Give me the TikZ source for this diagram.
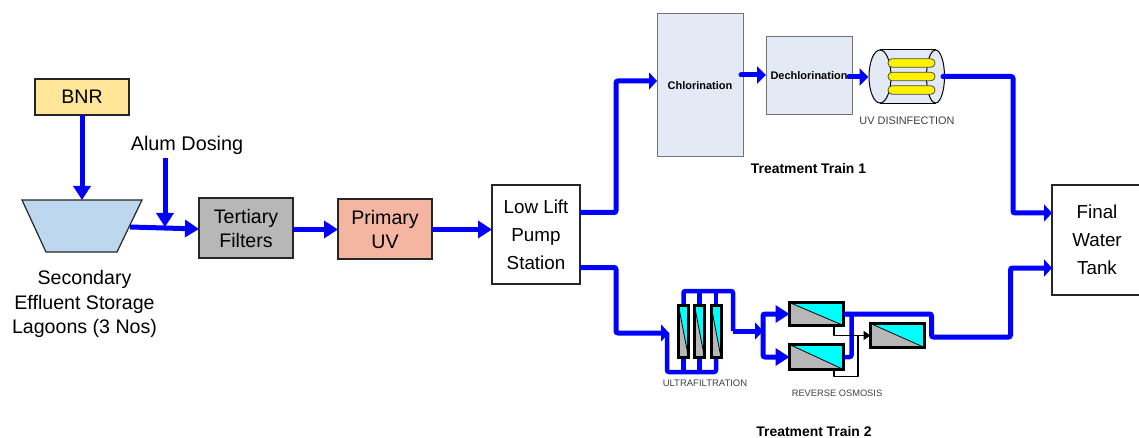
\documentclass[tikz,border=0pt]{standalone}
\usepackage{fontspec}
\setmainfont{Liberation Sans}
\usepackage{xcolor}
\usetikzlibrary{arrows.meta, positioning, backgrounds, calc, shapes.geometric}
\definecolor{bnrfill}{HTML}{FFE699}
\definecolor{lagoonfill}{HTML}{BDD7EE}
\definecolor{filterfill}{HTML}{B7B7B7}
\definecolor{primaryfill}{HTML}{F4B6A0}
\definecolor{trainfill}{HTML}{E4EAF5}
\definecolor{smalltext}{HTML}{404040}
\definecolor{memcyan}{HTML}{00FFFF}
\newcommand{\boxfont}{\fontsize{19.6}{24}\selectfont}
\newcommand{\tallfont}{\fontsize{18.8}{27.8}\selectfont}

\begin{document}
\begin{tikzpicture}[
  x=1pt, y=-1pt,
  unit/.style={draw=black!85, line width=1.2pt, align=center, inner sep=0pt, outer sep=0pt, font=\boxfont},
  train/.style={draw=black!55, line width=1pt, fill=trainfill, inner sep=0pt, outer sep=0pt,
                font=\fontsize{11}{14}\selectfont\bfseries},
  flow/.style={draw=blue, line width=5pt, rounded corners=2pt, -{Triangle[length=14pt,width=17pt]}},
  entry/.style={draw=blue, line width=5pt, rounded corners=2pt, -{Triangle[length=8pt,width=17pt]}},
  thinflow/.style={draw=blue, line width=5pt, line cap=round, -{Triangle[length=9pt,width=17pt]}},
  pipe/.style={draw=blue, line width=4.5pt, rounded corners=2pt},
  reject/.style={draw=black, line width=1.4pt, line join=round},
  module/.style={draw=black, line width=3pt, fill=filterfill, inner sep=0pt, outer sep=0pt,
    path picture={
      \fill[memcyan] (path picture bounding box.north west) -- (path picture bounding box.north east)
        -- (path picture bounding box.south east) -- cycle;
      \draw[black, line width=0.8pt] (path picture bounding box.north west) -- (path picture bounding box.south east);
    }},
  lamp/.style={draw=black!70, line width=0.8pt, fill=yellow, rounded corners=4pt, minimum width=47pt,
               minimum height=8.5pt, inner sep=0pt},
  tube/.style={ellipse, draw=black, line width=1pt, fill=trainfill, inner sep=0pt},
  caption/.style={text=smalltext, inner sep=0pt},
  trainname/.style={font=\fontsize{13.9}{16}\selectfont\bfseries, inner sep=0pt},
]
\useasboundingbox (0,0) rectangle (1139,438);

% first stage
\node[unit, fill=bnrfill, minimum width=94pt, minimum height=36pt] (bnr) at (82,97) {BNR};
\draw[draw=black!85, line width=1.2pt, fill=lagoonfill] (22,200) -- (142,200) -- (117,252) -- (46,252) -- cycle;
\coordinate (lagoontop) at (82,200);
\coordinate (lagoonout) at (130,227);
\node[font=\fontsize{19.6}{24.5}\selectfont, align=center, inner sep=0pt] (lagoontext) at (84.5,304)
      {Secondary\\Effluent Storage\\Lagoons (3 Nos)};
\node[font=\fontsize{19.8}{22}\selectfont, inner sep=0pt] (alum) at (187,145) {Alum Dosing};
\node[unit, fill=filterfill, minimum width=94pt, minimum height=60pt] (tertiary) at (246,228) {Tertiary\\Filters};
\node[unit, fill=primaryfill, minimum width=94pt, minimum height=60pt] (primary) at (385,229) {Primary\\UV};
\node[unit, fill=white, font=\tallfont, minimum width=88pt, minimum height=99pt] (lowlift) at (536,234.5) {Low Lift\\Pump\\Station};
\node[unit, fill=white, font=\tallfont, minimum width=90pt, minimum height=110pt] (tank) at (1097,240) {Final\\Water\\Tank};
\coordinate (alumtop) at (165,158);
\coordinate (alumend) at (165,227);

\draw[flow] (bnr.south) -- (lagoontop);
\draw[flow] (alumtop) -- (alumend);
\draw[flow] (lagoonout) -- ([yshift=-1pt]tertiary.west);
\draw[flow] ([yshift=-1.5pt]tertiary.east) -- ([yshift=-0.5pt]primary.west);
\draw[flow] ([yshift=-0.5pt]primary.east) -- ([yshift=5pt]lowlift.west);

% treatment train 1
\node[train, minimum width=86pt, minimum height=143pt] (chlor) at (700,85.5) {Chlorination};
\node[train, minimum width=86pt, minimum height=78pt] (dechlor) at (809,76) {Dechlorination};
\node[trainname] (train1) at (808.5,169) {Treatment Train 1};
\fill[trainfill] (880,50) rectangle (936,103);
\node[tube, minimum width=18pt, minimum height=53pt] (uvright) at (935.5,76.5) {};
\node[tube, minimum width=22pt, minimum height=53pt] (uvleft) at (880,76.5) {};
\draw[line width=1pt] (uvleft.north) -- (uvright.north);
\draw[line width=1pt] (uvleft.south) -- (uvright.south);
\node[lamp] (lampa) at (911.5,63) {};
\node[lamp] (lampb) at (911.5,76.5) {};
\node[lamp] (lampc) at (911.5,90) {};
\node[caption, font=\fontsize{10.9}{12}\selectfont] (uvtext) at (907,120.5) {UV DISINFECTION};

\draw[entry] ([yshift=22pt]lowlift.east) -- ++(36,0) |- ([yshift=4.5pt]chlor.west);
\draw[thinflow] ([yshift=10.5pt,xshift=-2pt]chlor.east) -- ([yshift=1pt]dechlor.west);
\draw[thinflow] ([yshift=-1pt,xshift=-3pt]dechlor.east) -- ([yshift=-0.5pt]uvleft.west);
\draw[entry, line cap=round] ([xshift=-2pt]uvright.east) -- ++(70,0) |- ([yshift=27pt]tank.west);

% treatment train 2
\node[module, minimum width=10pt, minimum height=52pt] (ufa) at (683.5,331.5) {};
\node[module, minimum width=10pt, minimum height=52pt] (ufb) at (699.5,331.5) {};
\node[module, minimum width=10pt, minimum height=52pt] (ufc) at (716,331.5) {};
\node[module, minimum width=54pt, minimum height=23pt] (roa) at (816.5,314) {};
\node[module, minimum width=54pt, minimum height=25pt] (rob) at (816.5,357) {};
\node[module, minimum width=54pt, minimum height=24pt] (roc) at (897.5,335.5) {};
\node[caption, font=\fontsize{9.5}{12}\selectfont] (uftext) at (705,383) {ULTRAFILTRATION};
\node[caption, font=\fontsize{9.3}{12}\selectfont] (rotext) at (837,393) {REVERSE OSMOSIS};
\node[trainname] (train2) at (814,432) {Treatment Train 2};
\coordinate (ufin) at (669,333);
\coordinate (bottomleft) at (667,372);
\coordinate (topleft) at (683.5,291);
\coordinate (topright) at (733,291);
\coordinate (rosplit) at (763,331);

\begin{scope}[on background layer]
  \draw[pipe] (bottomleft |- ufin) -- (bottomleft) -- (ufc.south |- bottomleft) -- (ufc.south);
  \draw[pipe] (ufa.south) -- (ufa.south |- bottomleft);
  \draw[pipe] (ufb.south) -- (ufb.south |- bottomleft);
  \draw[pipe] (ufa.north) -- (topleft) -- (topright) -- (rosplit -| topright);
  \draw[pipe] (ufb.north) -- (ufb.north |- topleft);
  \draw[pipe] (ufc.north) -- (ufc.north |- topleft);
\end{scope}

\draw[entry] ([yshift=-33pt]lowlift.east) -- ++(36,0) |- (ufin);
\draw[entry] (topright |- rosplit) -- (rosplit);
\draw[flow] (rosplit) |- (roa.west);
\draw[flow] (rosplit) |- (rob.west);
\draw[pipe] (rob.east) -- ++(8,0) |- ([xshift=2pt]roa.east);
\draw[entry] (roa.east) -- ++(88,0) -- ++(0,23) -- ++(79,0) |- ([yshift=-28pt]tank.west);
\draw[reject, -{Triangle[length=7pt,width=9pt]}] ([xshift=17.5pt]roa.south) |- (roc.west);
\draw[reject] ([xshift=17.5pt]rob.south) -- ++(0,7) -| (858,335);

\end{tikzpicture}
\end{document}
